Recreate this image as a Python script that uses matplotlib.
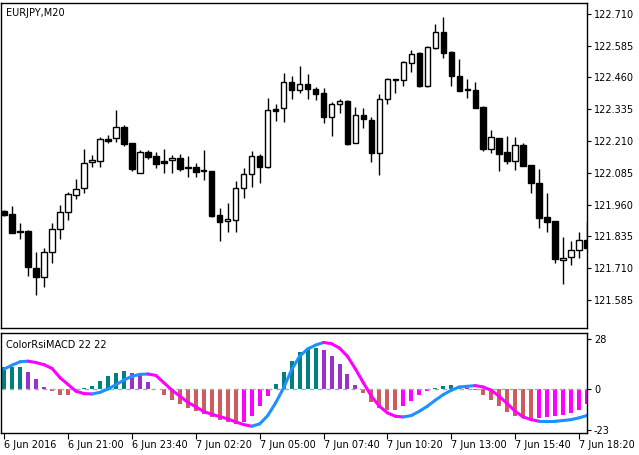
import numpy as np
import matplotlib
matplotlib.use("Agg")
import matplotlib.pyplot as plt
from matplotlib.collections import LineCollection

# Candle readings (chart pixel rows, converted to price below)
open_px  = [211,214,231,231,268,277,252,229,212,195,188,162,161,139,138,127,143,173,152,156,161,160,158,167,167,170,171,215,221,220,188,174,156,167,109,108,82,90,84,89,93,117,104,101,143,115,120,153,99,79,80,63,53,86,48,32,52,76,89,90,107,149,138,152,161,145,165,183,217,221,260,257,250,240]
high_px  = [210,206,223,230,252,248,223,205,192,179,149,155,137,135,110,125,143,150,150,152,149,155,154,156,163,150,171,208,203,181,168,151,154,98,104,73,76,66,74,87,88,102,99,100,107,108,117,94,78,79,61,50,52,46,24,17,51,59,79,82,106,130,138,136,137,143,165,169,193,221,237,241,232,222]
low_px   = [216,233,239,276,295,287,263,239,220,199,193,167,167,143,142,146,171,173,159,168,173,173,171,177,177,180,217,241,232,232,198,187,183,168,121,122,99,93,99,100,123,136,113,145,143,128,162,175,104,93,86,72,87,87,49,58,86,91,98,108,151,153,171,164,170,166,193,228,232,263,284,265,258,248]
close_px = [215,233,232,267,277,252,229,212,194,189,163,160,139,141,127,144,169,152,157,164,163,158,169,168,172,171,216,222,219,188,174,156,167,110,111,82,90,84,89,94,117,104,101,144,115,119,153,99,79,80,62,54,86,47,32,53,76,91,90,108,149,137,154,161,145,166,183,218,222,259,258,250,240,248]

def to_price(v):
    return [round(122.710 - (y - 14) / 254.0, 3) for y in v]

opens, highs, lows, closes = map(to_price, (open_px, high_px, low_px, close_px))

hist = [12.3,12.3,12.3,9.7,5.8,1.3,-1.3,-3.2,-3.5,-0.4,0.5,1.9,4.7,7.5,9.0,10.3,9.1,8.4,3.7,0.2,-3.5,-6.3,-8.6,-10.8,-12.5,-13.8,-15.7,-17.2,-18.3,-19.4,-18.7,-14.9,-9.7,-3.7,3.0,9.7,15.9,20.5,22.4,23.1,21.6,18.3,14.0,8.2,2.4,-2.2,-7.5,-10.6,-11.6,-11.6,-9.3,-6.7,-3.5,-1.3,0.6,1.9,2.4,1.9,0.5,-0.4,-3.2,-6.3,-9.7,-13.0,-15.3,-16.4,-17.2,-16.2,-15.7,-14.9,-14.4,-13.4,-11.6,-8.2]
line = [11.2,13.4,15.3,15.6,14.8,13.6,11.5,6.3,2.5,-1.3,-2.6,-2.8,-1.9,0.0,2.4,5.0,7.1,8.2,8.4,7.6,3.5,-0.6,-4.0,-7.5,-10.0,-12.7,-14.2,-15.5,-16.8,-18.5,-20.0,-20.9,-19.6,-15.0,-7.8,0.6,10.8,18.3,22.4,24.6,26.1,25.4,22.9,18.3,11.2,3.4,-4.1,-9.7,-13.4,-15.3,-15.7,-14.9,-12.5,-9.7,-6.3,-3.2,-0.7,1.1,1.5,1.9,1.1,-0.7,-4.1,-8.2,-12.5,-15.7,-17.2,-18.1,-18.1,-18.1,-17.7,-17.2,-16.2,-14.9,-13.8]

time_labels = ["6 Jun 2016","6 Jun 21:00","6 Jun 23:40","7 Jun 02:20","7 Jun 05:00",
               "7 Jun 07:40","7 Jun 10:20","7 Jun 13:00","7 Jun 15:40","7 Jun 18:20"]
price_ticks = [122.710,122.585,122.460,122.335,122.210,122.085,121.960,121.835,121.710,121.585]

W, H = 639, 455
fig = plt.figure(figsize=(W/100, H/100), dpi=100)
plt.rcParams['font.family'] = ['DejaVu Sans']
ax = fig.add_axes([1/W, 1-328/H, 586/W, 325/H])
ax2 = fig.add_axes([1/W, 1-433/H, 586/W, 100/H])

x = np.arange(len(opens))
for i in x:
    o, h, l, c = opens[i], highs[i], lows[i], closes[i]
    ax.vlines(i, l, h, color='black', lw=1)
    bull = c >= o
    bot, top = min(o, c), max(o, c)
    ax.bar(i, max(top-bot, 0.003), bottom=bot, width=0.68,
           color='white' if bull else 'black', edgecolor='black', lw=1, zorder=3)

ax.set_xlim(-0.4, 73.0)
ax.set_ylim(121.474, 122.753)
ax.yaxis.tick_right()
ax.set_yticks(price_ticks)
ax.set_yticklabels([f"{p:.3f}" for p in price_ticks], fontsize=7)
ax.set_xticks([])
ax.tick_params(axis='y', length=3, pad=2)
ax.text(0.008, 0.985, "EURJPY,M20", transform=ax.transAxes, fontsize=7, va='top')

# indicator
hx = np.arange(len(hist))
cols = []
for i, v in enumerate(hist):
    prev = hist[i-1] if i > 0 else v
    if v >= 0:
        cols.append('#008080' if v >= prev else '#9932cc')
    else:
        cols.append('#cd5c5c' if v <= prev else '#ff00ff')
ax2.bar(hx, hist, width=0.5, color=cols)
ax2.axhline(0, color='#aaaaaa', lw=1, ls=(0, (3, 3)))
lx = np.arange(len(line))
pts = np.column_stack([lx, line])
segs = np.stack([pts[:-1], pts[1:]], axis=1)
lcols = ['#ff00ff' if line[i+1] < line[i] else '#1e90ff' for i in range(len(line)-1)]
ax2.add_collection(LineCollection(segs, colors=lcols, lw=2.2, capstyle='round'))
ax2.set_xlim(-0.4, 73.0)
ax2.set_ylim(-24.7, 31.4)
ax2.yaxis.tick_right()
ax2.set_yticks([28, 0, -23])
ax2.set_yticklabels(["28", "0", "-23"], fontsize=7)
ax2.tick_params(axis='y', length=3, pad=2)
ax2.set_xticks(np.arange(0, 80, 8)[:len(time_labels)])
ax2.set_xticklabels(time_labels, fontsize=7, ha='left')
ax2.tick_params(axis='x', length=4, pad=1)
ax2.text(0.008, 0.93, "ColorRsiMACD 22 22", transform=ax2.transAxes, fontsize=7, va='top')

for a in (ax, ax2):
    for s in a.spines.values():
        s.set_linewidth(1)

fig.savefig("out.png", dpi=100)
